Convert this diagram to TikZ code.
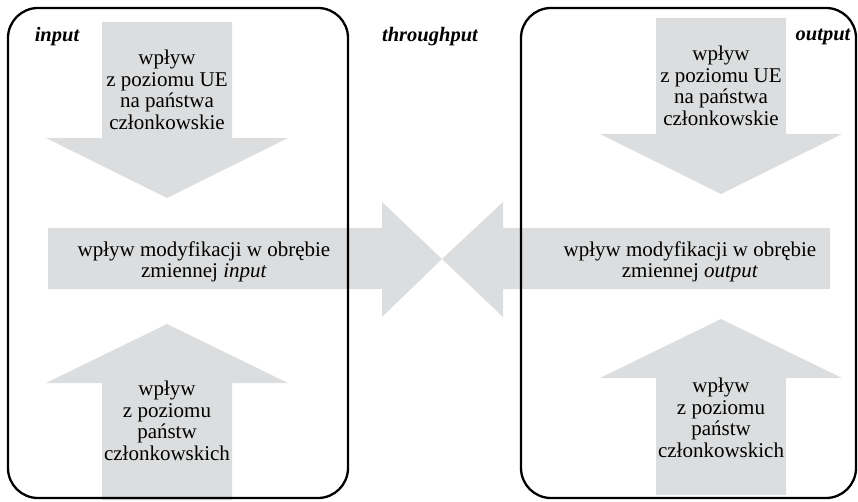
\documentclass[tikz,border=0pt]{standalone}
\usepackage{fontspec}
\setmainfont{Liberation Serif}
\definecolor{arrowgray}{RGB}{220,221,222}

\begin{document}
\begin{tikzpicture}[x=1pt, y=-1pt,
    frame/.style={line width=2.3pt, rounded corners=30pt},
    label/.style={font=\fontsize{21}{21.5}\selectfont, align=center, inner sep=0pt},
    heading/.style={font=\fontsize{20.5}{21.5}\selectfont\bfseries\itshape, inner sep=0pt}]
    \useasboundingbox (0, 0) rectangle (858, 502);
    % Draw arrows pointing down
    \foreach \c/\dy in {167/0, 721/-4} {
        \fill[arrowgray] (\c-65, 22+\dy) -- (\c+65, 22+\dy) -- (\c+65, 138+\dy) -- (\c+121, 138+\dy)
            -- (\c, 198+\dy) -- (\c-121, 138+\dy) -- (\c-65, 138+\dy) -- cycle;
    }
    % Draw arrows pointing up
    \foreach \c/\dy in {167/0, 721/-5} {
        \fill[arrowgray] (\c-65, 500+\dy) -- (\c-65, 383+\dy) -- (\c-121, 383+\dy) -- (\c, 324+\dy)
            -- (\c+121, 383+\dy) -- (\c+65, 383+\dy) -- (\c+65, 500+\dy) -- cycle;
    }
    % Draw the two arrows meeting in the middle
    \fill[arrowgray] (48, 228) -- (382, 228) -- (382, 202) -- (442, 259) -- (382, 317) -- (382, 289) -- (48, 289) -- cycle;
    \fill[arrowgray] (830, 228) -- (503, 228) -- (503, 202) -- (442, 259) -- (503, 317) -- (503, 289) -- (830, 289) -- cycle;
    % Draw frames
    \draw[frame] (8, 8) rectangle (348, 498);
    \draw[frame] (521, 8) rectangle (856, 498);
    % Headings
    \foreach \x/\t in {57/input, 430/throughput, 823/output} {
        \node[heading] (\t) at (\x, 37) {\t};
    }
    % Label arrows
    \node[label] (topleft) at (167, 90) {wpływ\\z poziomu UE\\na państwa\\członkowskie};
    \node[label] (topright) at (721, 86) {wpływ\\z poziomu UE\\na państwa\\członkowskie};
    \node[label] (midleft) at (204, 262) {wpływ modyfikacji w obrębie\\zmiennej \textit{input}};
    \node[label] (midright) at (690, 262) {wpływ modyfikacji w obrębie\\zmiennej \textit{output}};
    \node[label] (botleft) at (167, 421) {wpływ\\z poziomu\\państw\\członkowskich};
    \node[label] (botright) at (721, 418) {wpływ\\z poziomu\\państw\\członkowskich};
\end{tikzpicture}
\end{document}
